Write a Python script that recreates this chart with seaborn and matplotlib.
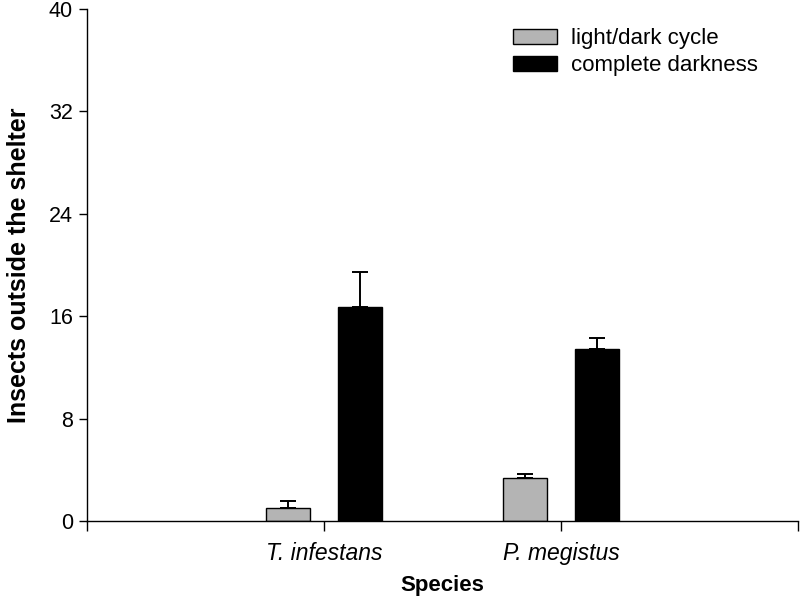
import matplotlib
matplotlib.use("Agg")
import matplotlib.pyplot as plt
import seaborn as sns
import pandas as pd

species = ["T. infestans", "P. megistus"]
conditions = ["light/dark cycle", "complete darkness"]
light_mean = [1.02, 3.36]
light_err = [0.57, 0.31]
dark_mean = [16.74, 13.41]
dark_err = [2.71, 0.86]
yticks = [0, 8, 16, 24, 32, 40]

df = pd.DataFrame({
    "species": species * 2,
    "condition": [conditions[0]] * 2 + [conditions[1]] * 2,
    "value": light_mean + dark_mean,
})
errs = {conditions[0]: light_err, conditions[1]: dark_err}

sns.set_theme(style="ticks")
plt.rcParams["font.family"] = ["Liberation Sans", "DejaVu Sans"]
plt.rcParams["text.color"] = "black"
plt.rcParams["axes.labelcolor"] = "black"
plt.rcParams["xtick.color"] = "black"
plt.rcParams["ytick.color"] = "black"

fig = plt.figure(figsize=(8, 6), dpi=100)
ax = fig.add_axes([87 / 800, 79 / 600, 711 / 800, 512 / 600])

sns.barplot(data=df, x="species", y="value", hue="condition", order=species,
            hue_order=conditions, palette=["#b4b4b4", "#000000"],
            edgecolor="black", linewidth=1, width=0.603, gap=0.383,
            errorbar=None, ax=ax, saturation=1)

for cont, cond in zip(ax.containers, conditions):
    xs = [p.get_x() + p.get_width() / 2 for p in cont.patches]
    hs = [p.get_height() for p in cont.patches]
    e = errs[cond]
    ax.errorbar(xs, hs, yerr=[[0] * len(e), e], fmt="none", ecolor="black",
                elinewidth=1.4, capsize=5.8, capthick=1.4, zorder=1)

ax.set_xlim(-1, 2)
ax.set_xticks([-1, 0, 1, 2])
ax.set_xticklabels(["", species[0], species[1], ""], fontsize=16.5, style="italic")
ax.set_ylim(0, 40)
ax.set_yticks(yticks)
ax.set_yticklabels([str(v) for v in yticks], fontsize=15.5)
ax.tick_params(axis="x", length=7, width=1, pad=8, colors="black")
ax.tick_params(axis="y", length=6, width=1, pad=4, colors="black")
for s in ["top", "right"]:
    ax.spines[s].set_visible(False)
for s in ["left", "bottom"]:
    ax.spines[s].set_color("black")
    ax.spines[s].set_linewidth(1)

ax.set_xlabel("Species", fontsize=16, fontweight="bold", labelpad=7)
ax.set_ylabel("Insects outside the shelter", fontsize=18, fontweight="bold", labelpad=13)

leg = ax.legend(loc="upper left", bbox_to_anchor=(0.599, 0.962), frameon=False,
                fontsize=16, handlelength=2.0, handleheight=0.65,
                handletextpad=0.6, labelspacing=0.25, borderaxespad=0,
                borderpad=0)

fig.savefig("out.png", dpi=100)
